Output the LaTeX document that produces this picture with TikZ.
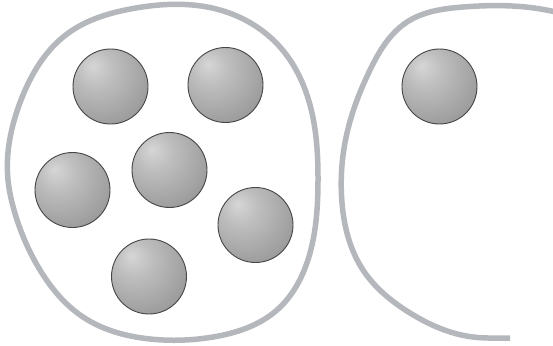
\documentclass[tikz,border=0pt]{standalone}
\usetikzlibrary{hobby}
\definecolor{rim}{RGB}{180,183,187}
\definecolor{sA}{RGB}{214,214,214}
\definecolor{sB}{RGB}{190,190,190}
\definecolor{sC}{RGB}{155,155,155}
\definecolor{sD}{RGB}{110,110,110}
\definecolor{sE}{RGB}{125,125,125}
\definecolor{sEdge}{RGB}{70,70,70}
\pgfdeclareradialshading{sph}{\pgfpoint{-12bp}{14bp}}{color(0bp)=(sA); color(12bp)=(sB); color(35bp)=(sC); color(58bp)=(sD); color(66bp)=(sE); color(80bp)=(sE)}
\tikzset{
  rimline/.style={draw=rim, line width=5.5pt},
  sphere/.style={circle, minimum size=75pt, inner sep=0pt, shading=sph, draw=sEdge, line width=0.9pt}
}
\begin{document}
\begin{tikzpicture}[x=1pt, y=-1pt]
\useasboundingbox (0,0) rectangle (553,345);
\clip (0,0) rectangle (553,345);
\fill[white] (0,0) rectangle (553,345);
% left container
\draw[rimline, use Hobby shortcut, closed=true] (8,180) .. (21,100) .. (67,34) .. (133,8.5) .. (220,10) .. (280,47) .. (312,113) .. (318,180) .. (310,253) .. (277,310) .. (213,337) .. (150,339) .. (83,317) .. (40,270) .. (14,210);
% right container (open)
\draw[rimline, use Hobby shortcut] ([out angle=180]510,338) .. (473,337) .. (410,313) .. (363,270) .. (342,203) .. (347,133) .. (370,70) .. (407,22) .. (463,7) .. (530,7.5) .. (560,13);
% spheres
\node[sphere] (s1) at (110.5,86.5) {};
\node[sphere] (s2) at (225.5,85) {};
\node[sphere] (s3) at (72.5,190) {};
\node[sphere] (s4) at (169.5,170) {};
\node[sphere] (s5) at (255.5,225) {};
\node[sphere] (s6) at (149,276.5) {};
\node[sphere] (s7) at (439.5,86.5) {};
\end{tikzpicture}
\end{document}
